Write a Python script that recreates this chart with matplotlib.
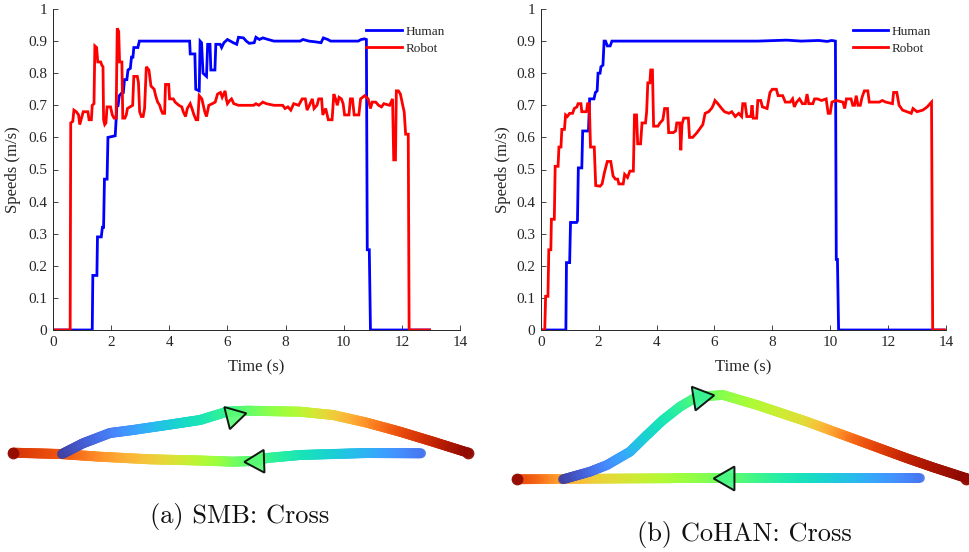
import numpy as np
import matplotlib
matplotlib.use('Agg')
import matplotlib.pyplot as plt
from matplotlib.collections import LineCollection

plt.rcParams['font.family'] = ['Liberation Serif', 'DejaVu Serif']

# ---------------- speed data (panel a: SMB) ----------------
t_human_a = [0, 1.35, 1.37, 1.51, 1.53, 1.66, 1.70, 1.74, 1.77, 1.86, 1.89, 2.14, 2.20, 2.24, 2.28, 2.38,
             2.42, 2.46, 2.54, 2.58, 2.66, 2.70, 2.75, 2.78, 2.92, 2.97, 4.70, 4.72, 4.88, 4.91, 5.03,
             5.06, 5.11, 5.16, 5.28, 5.32, 5.40, 5.43, 5.57, 5.60, 5.75, 5.80, 5.88, 6.00, 6.10, 6.20,
             6.32, 6.38, 6.55, 6.65, 6.75, 6.92, 6.98, 7.10, 7.22, 7.40, 7.60, 8.50, 8.60, 8.80, 9.00,
             9.22, 9.30, 9.45, 9.55, 10.50, 10.60, 10.72, 10.78, 10.81, 10.88, 10.92, 12.95]
v_human_a = [0, 0, 0.17, 0.17, 0.29, 0.29, 0.32, 0.32, 0.47, 0.47, 0.60, 0.605, 0.70, 0.70, 0.73, 0.74,
             0.74, 0.78, 0.78, 0.81, 0.815, 0.85, 0.85, 0.88, 0.88, 0.90, 0.90, 0.86, 0.86, 0.75, 0.745,
             0.90, 0.895, 0.80, 0.79, 0.89, 0.89, 0.81, 0.81, 0.89, 0.89, 0.88, 0.895, 0.905, 0.90, 0.895,
             0.89, 0.912, 0.91, 0.90, 0.893, 0.895, 0.912, 0.905, 0.91, 0.905, 0.90, 0.90, 0.905, 0.90, 0.898,
             0.895, 0.91, 0.905, 0.90, 0.90, 0.905, 0.907, 0.905, 0.25, 0.25, 0, 0]

t_robot_a = [0, 0.59, 0.61, 0.68, 0.72, 0.80, 0.88, 0.92, 0.98, 1.04, 1.20, 1.24, 1.32, 1.35, 1.41, 1.44,
             1.50, 1.54, 1.64, 1.68, 1.72, 1.74, 1.78, 1.82, 1.86, 1.98, 2.04, 2.10, 2.17, 2.21, 2.26,
             2.29, 2.37, 2.40, 2.47, 2.52, 2.56, 2.65, 2.74, 2.78, 2.90, 2.94, 2.98, 3.04, 3.10, 3.15,
             3.21, 3.30, 3.37, 3.48, 3.53, 3.60, 3.67, 3.72, 3.77, 3.84, 3.87, 3.98, 4.01, 4.14, 4.20,
             4.33, 4.43, 4.48, 4.56, 4.62, 4.72, 4.78, 4.85, 4.92, 4.98, 5.03, 5.12, 5.22, 5.28, 5.36,
             5.48, 5.58, 5.66, 5.76, 5.82, 5.92, 5.96, 6.00, 6.08, 6.14, 6.22, 6.38, 6.90, 6.98, 7.08,
             7.22, 7.34, 7.60, 7.90, 7.98, 8.08, 8.18, 8.28, 8.45, 8.57, 8.68, 8.74, 8.82, 8.92, 8.98,
             9.08, 9.14, 9.24, 9.28, 9.38, 9.47, 9.60, 9.66, 9.72, 9.78, 9.84, 9.92, 9.98, 10.03, 10.18,
             10.23, 10.30, 10.36, 10.52, 10.58, 10.72, 10.84, 10.92, 10.98, 11.10, 11.20, 11.30, 11.38,
             11.58, 11.68, 11.72, 11.78, 11.81, 11.88, 11.95, 12.03, 12.08, 12.13, 12.22, 12.25, 12.95]
v_robot_a = [0, 0, 0.645, 0.65, 0.685, 0.68, 0.67, 0.64, 0.66, 0.68, 0.68, 0.655, 0.655, 0.70, 0.705, 0.885,
             0.88, 0.835, 0.835, 0.825, 0.82, 0.655, 0.64, 0.645, 0.695, 0.695, 0.67, 0.66, 0.66, 0.94, 0.93,
             0.835, 0.835, 0.66, 0.66, 0.67, 0.69, 0.695, 0.70, 0.79, 0.79, 0.77, 0.68, 0.665, 0.665, 0.69,
             0.82, 0.81, 0.76, 0.75, 0.73, 0.71, 0.70, 0.685, 0.675, 0.675, 0.765, 0.765, 0.72, 0.72, 0.71,
             0.70, 0.695, 0.68, 0.665, 0.69, 0.705, 0.69, 0.67, 0.655, 0.655, 0.73, 0.72, 0.68, 0.665, 0.70,
             0.705, 0.71, 0.735, 0.74, 0.725, 0.745, 0.72, 0.705, 0.715, 0.72, 0.705, 0.70, 0.70, 0.705, 0.70,
             0.71, 0.705, 0.70, 0.70, 0.69, 0.695, 0.685, 0.705, 0.70, 0.72, 0.72, 0.685, 0.70, 0.72, 0.69,
             0.70, 0.72, 0.72, 0.67, 0.69, 0.655, 0.655, 0.735, 0.72, 0.70, 0.725, 0.72, 0.705, 0.67, 0.67,
             0.72, 0.72, 0.67, 0.67, 0.72, 0.73, 0.72, 0.69, 0.71, 0.71, 0.70, 0.695, 0.705,
             0.70, 0.72, 0.53, 0.53, 0.745, 0.745, 0.735, 0.70, 0.68, 0.61, 0.61, 0, 0]

# ---------------- speed data (panel b: CoHAN) ----------------
t_human_b = [0, 0.87, 0.89, 1.00, 1.03, 1.24, 1.27, 1.30, 1.42, 1.45, 1.65, 1.69, 1.84, 1.89, 1.95, 1.98,
             2.05, 2.08, 2.15, 2.19, 2.24, 2.30, 2.40, 2.46, 7.50, 8.50, 9.00, 9.60, 9.90, 10.05, 10.18,
             10.21, 10.25, 10.29, 13.93]
v_human_b = [0, 0, 0.21, 0.21, 0.335, 0.335, 0.34, 0.505, 0.505, 0.62, 0.62, 0.72, 0.72, 0.74, 0.745, 0.80,
             0.80, 0.82, 0.825, 0.90, 0.90, 0.885, 0.885, 0.90, 0.90, 0.903, 0.90, 0.902, 0.899, 0.902, 0.90,
             0.22, 0.22, 0, 0]

t_robot_b = [0, 0.14, 0.17, 0.25, 0.28, 0.35, 0.37, 0.47, 0.50, 0.60, 0.63, 0.70, 0.73, 0.82, 0.86, 0.92,
             1.00, 1.10, 1.16, 1.25, 1.29, 1.39, 1.42, 1.58, 1.62, 1.68, 1.72, 1.85, 1.90, 2.05, 2.12,
             2.20, 2.30, 2.42, 2.50, 2.58, 2.66, 2.70, 2.85, 2.90, 3.00, 3.08, 3.20, 3.24, 3.31, 3.35,
             3.45, 3.50, 3.62, 3.66, 3.70, 3.77, 3.80, 3.86, 3.90, 4.05, 4.12, 4.22, 4.28, 4.38, 4.42,
             4.58, 4.66, 4.70, 4.80, 4.84, 4.88, 4.94, 5.10, 5.14, 5.25, 5.40, 5.60, 5.68, 5.80, 5.90,
             5.96, 6.02, 6.12, 6.25, 6.35, 6.50, 6.60, 6.72, 6.84, 6.94, 6.98, 7.06, 7.12, 7.26, 7.30,
             7.34, 7.46, 7.50, 7.60, 7.66, 7.82, 7.92, 8.00, 8.14, 8.20, 8.36, 8.45, 8.62, 8.70, 8.76,
             8.84, 8.94, 9.04, 9.14, 9.20, 9.26, 9.40, 9.46, 9.56, 9.70, 9.86, 9.93, 10.00, 10.06, 10.20,
             10.44, 10.50, 10.56, 10.72, 10.78, 10.84, 10.90, 10.96, 11.04, 11.10, 11.18, 11.30, 11.35,
             11.70, 11.80, 11.92, 12.15, 12.19, 12.30, 12.38, 12.50, 12.65, 12.80, 12.86, 13.00, 13.20,
             13.35, 13.50, 13.54, 13.95]
v_robot_b = [0, 0, 0.105, 0.105, 0.25, 0.25, 0.345, 0.345, 0.51, 0.51, 0.57, 0.57, 0.625, 0.625, 0.67, 0.665,
             0.675, 0.675, 0.69, 0.695, 0.705, 0.705, 0.68, 0.68, 0.705, 0.705, 0.57, 0.57, 0.45, 0.448, 0.455,
             0.49, 0.525, 0.525, 0.48, 0.47, 0.47, 0.455, 0.455, 0.485, 0.475, 0.495, 0.495, 0.67, 0.67, 0.58,
             0.58, 0.645, 0.645, 0.68, 0.77, 0.77, 0.81, 0.81, 0.635, 0.635, 0.645, 0.655, 0.69, 0.69, 0.615,
             0.615, 0.62, 0.645, 0.645, 0.56, 0.64, 0.66, 0.66, 0.60, 0.60, 0.615, 0.64, 0.675, 0.68, 0.69,
             0.70, 0.715, 0.705, 0.69, 0.68, 0.675, 0.68, 0.665, 0.675, 0.665, 0.705, 0.705, 0.665, 0.665, 0.70,
             0.66, 0.66, 0.715, 0.715, 0.695, 0.69, 0.74, 0.75, 0.75, 0.73, 0.73, 0.71, 0.71, 0.72, 0.695,
             0.71, 0.72, 0.705, 0.705, 0.735, 0.705, 0.705, 0.72, 0.72, 0.715, 0.72, 0.675, 0.675, 0.71, 0.715,
             0.71, 0.69, 0.72, 0.72, 0.70, 0.70, 0.73, 0.70, 0.70, 0.725, 0.745, 0.745, 0.71,
             0.71, 0.715, 0.71, 0.705, 0.74, 0.74, 0.70, 0.685, 0.68, 0.675, 0.69, 0.68, 0.685,
             0.695, 0.71, 0, 0]

x_ticks = [0, 2, 4, 6, 8, 10, 12, 14]
y_ticks = [0, 0.1, 0.2, 0.3, 0.4, 0.5, 0.6, 0.7, 0.8, 0.9, 1.0]
y_tick_labels = ['0', '0.1', '0.2', '0.3', '0.4', '0.5', '0.6', '0.7', '0.8', '0.9', '1']
series_labels = ['Human', 'Robot']
x_label = 'Time (s)'
y_label = 'Speeds (m/s)'
captions = ['(a) SMB: Cross', '(b) CoHAN: Cross']

# ---------------- trajectory sketches (pixel coordinates) ----------------
# panel a
traj_a_top_x = [62, 83, 110, 133, 167, 200, 227, 247, 300, 333, 367, 400, 433, 468]
traj_a_top_y = [454, 443.3, 433, 430, 425, 420, 411.7, 410.7, 411.7, 415, 422.7, 431.7, 441.7, 452.7]
traj_a_top_c = [0.06, 0.10, 0.15, 0.20, 0.27, 0.33, 0.38, 0.42, 0.52, 0.62, 0.72, 0.81, 0.89, 0.97]
traj_a_bot_x = [421, 367, 300, 267, 253, 233, 200, 150, 100, 60, 13]
traj_a_bot_y = [453.3, 453, 455, 458, 461, 461.7, 460.5, 459.3, 456.7, 454, 452.7]
traj_a_bot_c = [0.14, 0.23, 0.33, 0.38, 0.41, 0.44, 0.52, 0.63, 0.72, 0.80, 0.86]
# panel b
traj_b_top_x = [563, 590, 607, 630, 647, 663, 680, 697, 723, 757, 807, 857, 907, 933, 970]
traj_b_top_y = [479.3, 471.7, 465, 451.7, 435, 420, 406.7, 396.7, 395, 405, 421.7, 440, 458.3, 467.3, 479.3]
traj_b_top_c = [0.06, 0.12, 0.17, 0.23, 0.29, 0.33, 0.37, 0.41, 0.46, 0.52, 0.60, 0.78, 0.90, 0.94, 0.98]
traj_b_bot_x = [920, 857, 790, 733, 673, 623, 590, 557, 533, 517]
traj_b_bot_y = [478.3, 478.3, 478.3, 478.3, 478.3, 478.5, 478.7, 479, 479.2, 479.3]
traj_b_bot_c = [0.14, 0.24, 0.34, 0.42, 0.50, 0.58, 0.63, 0.70, 0.78, 0.82]

end_dots_x = [13, 468, 517, 966]
end_dots_y = [452.7, 452.7, 479.3, 479.3]
arrows_x = [233.1, 256.7, 699.8, 727.1]
arrows_y = [415.5, 460.9, 397.0, 477.9]
arrows_angle = [-76, 92, -81, 90]
arrows_c = [0.42, 0.42, 0.38, 0.40]
arrows_size = [19, 19, 20, 20]

caption_x = [240, 744]
caption_y = [517, 535]

W, H = 970, 552
fig = plt.figure(figsize=(W / 100, H / 100), dpi=100)
AX_COL = '#262626'


def speed_axes(rect, th, vh, tr, vr, ylab_x):
    ax = fig.add_axes(rect)
    ax.plot(th, vh, color='#0000ff', lw=2.0, label=series_labels[0], solid_joinstyle='miter')
    ax.plot(tr, vr, color='#ff0000', lw=2.0, label=series_labels[1], solid_joinstyle='miter')
    ax.set_xlim(0, 14)
    ax.set_ylim(0, 1)
    ax.set_xticks(x_ticks)
    ax.set_yticks(y_ticks)
    ax.set_yticklabels(y_tick_labels)
    for s in ['top', 'right']:
        ax.spines[s].set_visible(False)
    for s in ['left', 'bottom']:
        ax.spines[s].set_color(AX_COL)
        ax.spines[s].set_linewidth(0.7)
    ax.tick_params(direction='in', length=3.5, width=0.6, color=AX_COL,
                   labelcolor=AX_COL, labelsize=11, pad=4)
    ax.set_xlabel(x_label, fontsize=12, color=AX_COL)
    ax.set_ylabel(y_label, fontsize=12, color=AX_COL)
    ax.xaxis.set_label_coords(0.5, -0.093)
    ax.yaxis.set_label_coords(ylab_x, 0.5)
    ax.patch.set_alpha(0)
    ax.legend(loc='upper left', bbox_to_anchor=(0.77, 0.948), frameon=False,
              fontsize=9.5, handlelength=2.7, handletextpad=0.25, labelspacing=0.33,
              borderaxespad=0, borderpad=0, labelcolor=AX_COL)
    return ax


speed_axes([53 / W, 1 - 330 / H, 407 / W, 321 / H], t_human_a, v_human_a, t_robot_a, v_robot_a, -0.078)
speed_axes([540.7 / W, 1 - 330 / H, 405.3 / W, 321 / H], t_human_b, v_human_b, t_robot_b, v_robot_b, -0.073)

# overlay axes in pixel coordinates for the trajectory sketches
axt = fig.add_axes([0, 0, 1, 1])
axt.set_xlim(0, W)
axt.set_ylim(H, 0)
axt.axis('off')
axt.patch.set_alpha(0)
cmap = plt.get_cmap('turbo')


def grad_path(xs, ys, cs, lw):
    xs = np.asarray(xs, float)
    ys = np.asarray(ys, float)
    cs = np.asarray(cs, float)
    px, py, pc = [xs[0]], [ys[0]], [cs[0]]
    for i in range(len(xs) - 1):
        n = max(int(np.hypot(xs[i + 1] - xs[i], ys[i + 1] - ys[i]) / 1.5), 1)
        f = np.linspace(0, 1, n + 1)[1:]
        px.extend(xs[i] + f * (xs[i + 1] - xs[i]))
        py.extend(ys[i] + f * (ys[i + 1] - ys[i]))
        pc.extend(cs[i] + f * (cs[i + 1] - cs[i]))
    pts = np.column_stack([px, py]).reshape(-1, 1, 2)
    segs = np.concatenate([pts[:-1], pts[1:]], axis=1)
    pc = np.asarray(pc)
    cols = cmap(0.5 * (pc[:-1] + pc[1:]))
    lc = LineCollection(segs, colors=cols, linewidths=lw, capstyle='round', joinstyle='round', alpha=0.92)
    axt.add_collection(lc)


grad_path(traj_a_bot_x, traj_a_bot_y, traj_a_bot_c, 7.2)
grad_path(traj_a_top_x, traj_a_top_y, traj_a_top_c, 7.2)
grad_path(traj_b_bot_x, traj_b_bot_y, traj_b_bot_c, 7.0)
grad_path(traj_b_top_x, traj_b_top_y, traj_b_top_c, 7.0)

axt.plot(end_dots_x, end_dots_y, 'o', ms=8.5, color=cmap(0.97), mec='none', alpha=0.95)
for x, y, a, c, s in zip(arrows_x, arrows_y, arrows_angle, arrows_c, arrows_size):
    axt.plot([x], [y], marker=(3, 0, a), ms=s, mfc=cmap(c), mec='black', mew=1.4, alpha=0.9)

for x, y, txt in zip(caption_x, caption_y, captions):
    axt.text(x, y, txt, fontsize=19, family='cmr10', ha='center', va='center', color='#111111')

fig.savefig('out.png', dpi=100)
